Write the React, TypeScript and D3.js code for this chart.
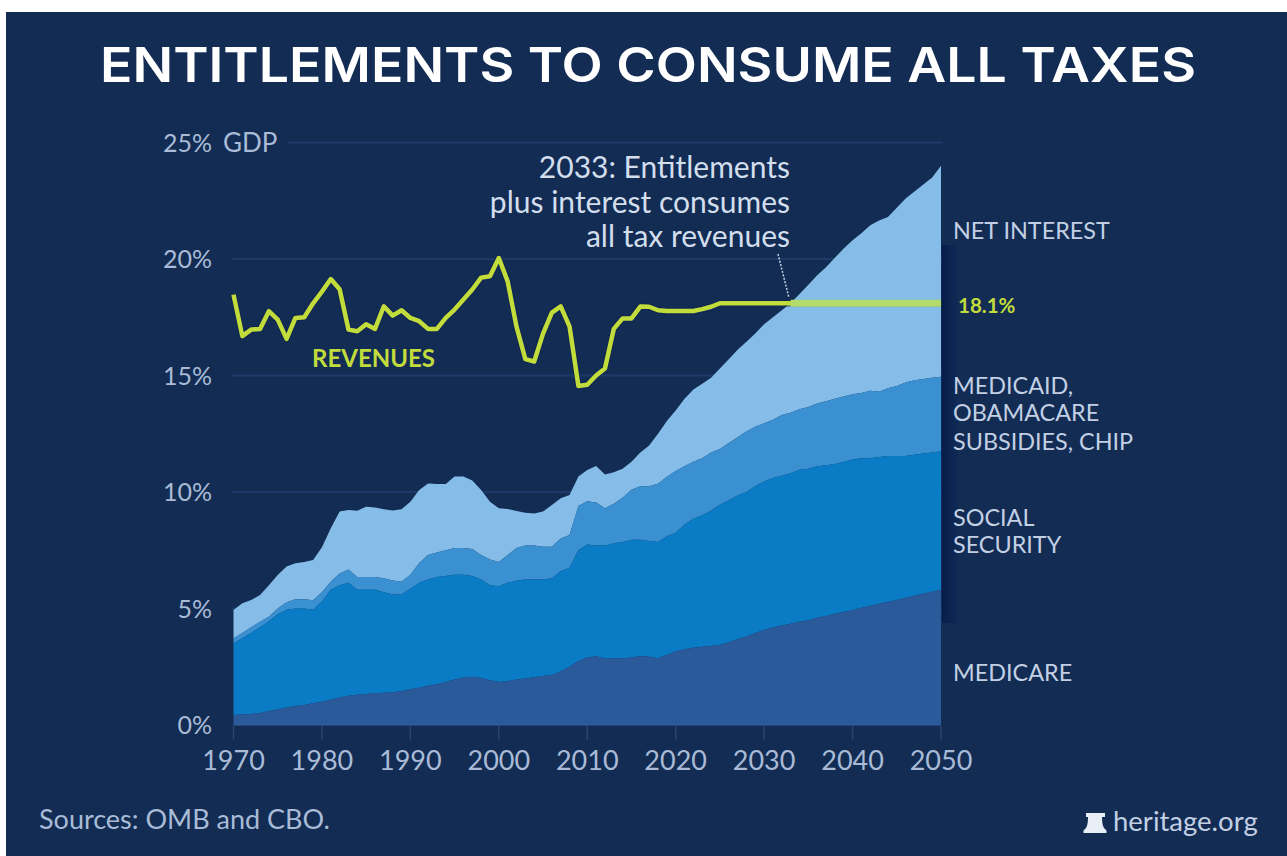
import React from "react";
import * as d3 from "d3";

// Percent of GDP, year by year, 1970–2050. Each "top" array is the cumulative
// height of the stack up to and including that program.
const startYear = 1970;
const endYear = 2050;

const medicareTop = [
  0.43, 0.45, 0.47, 0.52, 0.6, 0.67, 0.75, 0.82, 0.86, 0.93, 1.0, 1.08, 1.18, 1.26, 1.3, 1.33, 1.36, 1.38, 1.4, 1.46,
  1.53, 1.6, 1.68, 1.75, 1.85, 1.95, 2.03, 2.07, 2.02, 1.92, 1.85, 1.88, 1.95, 2.0, 2.05, 2.1, 2.15, 2.3, 2.5, 2.75,
  2.9, 2.95, 2.85, 2.85, 2.85, 2.9, 2.95, 2.93, 2.87, 3.0, 3.15, 3.25, 3.32, 3.36, 3.4, 3.43, 3.55, 3.68, 3.8, 3.95,
  4.08, 4.18, 4.27, 4.35, 4.43, 4.5, 4.6, 4.68, 4.77, 4.85, 4.93, 5.03, 5.11, 5.2, 5.28, 5.36, 5.45, 5.55, 5.63, 5.72, 5.8,
];
const socialSecurityTop = [
  3.5, 3.72, 3.95, 4.2, 4.45, 4.75, 4.95, 5.0, 5.0, 4.95, 5.3, 5.8, 6.0, 6.1, 5.8, 5.8, 5.8, 5.7, 5.6, 5.6,
  5.85, 6.1, 6.25, 6.35, 6.4, 6.45, 6.45, 6.4, 6.25, 6.0, 5.95, 6.1, 6.2, 6.25, 6.25, 6.25, 6.3, 6.6, 6.75, 7.5,
  7.75, 7.7, 7.7, 7.8, 7.85, 7.95, 7.95, 7.9, 7.85, 8.1, 8.25, 8.6, 8.85, 9.0, 9.2, 9.45, 9.65, 9.85, 10.0, 10.25,
  10.45, 10.6, 10.7, 10.8, 10.95, 11.0, 11.1, 11.15, 11.2, 11.3, 11.4, 11.45, 11.45, 11.5, 11.55, 11.55, 11.55, 11.6, 11.65, 11.7, 11.75,
];
const medicaidTop = [
  3.72, 3.95, 4.2, 4.43, 4.65, 5.0, 5.27, 5.4, 5.4, 5.35, 5.7, 6.15, 6.5, 6.67, 6.35, 6.35, 6.35, 6.3, 6.2, 6.15,
  6.45, 6.95, 7.3, 7.4, 7.5, 7.6, 7.6, 7.55, 7.3, 7.1, 7.0, 7.3, 7.6, 7.7, 7.7, 7.65, 7.65, 8.0, 8.15, 9.4,
  9.6, 9.55, 9.3, 9.5, 9.75, 10.1, 10.25, 10.25, 10.35, 10.65, 10.9, 11.1, 11.3, 11.45, 11.7, 11.85, 12.1, 12.35, 12.6, 12.8,
  12.95, 13.1, 13.3, 13.4, 13.55, 13.65, 13.8, 13.9, 14.0, 14.1, 14.2, 14.25, 14.35, 14.3, 14.45, 14.55, 14.7, 14.8, 14.85, 14.9, 14.95,
];
const netInterestTop = [
  4.94, 5.22, 5.36, 5.58, 6.0, 6.44, 6.8, 6.94, 7.0, 7.08, 7.63, 8.44, 9.16, 9.23, 9.2, 9.37, 9.33, 9.26, 9.21, 9.26,
  9.58, 10.09, 10.37, 10.34, 10.34, 10.66, 10.66, 10.49, 10.09, 9.58, 9.3, 9.27, 9.18, 9.11, 9.08, 9.16, 9.44, 9.73, 9.87, 10.66,
  10.94, 11.12, 10.75, 10.85, 11.0, 11.3, 11.7, 12.0, 12.5, 13.05, 13.5, 14.0, 14.4, 14.65, 14.9, 15.3, 15.7, 16.1, 16.45, 16.8,
  17.2, 17.5, 17.8, 18.1, 18.5, 18.9, 19.3, 19.65, 20.05, 20.45, 20.8, 21.1, 21.45, 21.65, 21.8, 22.2, 22.6, 22.9, 23.2, 23.5, 24.0,
];
const revenues = [
  18.47, 16.69, 16.97, 17.0, 17.76, 17.4, 16.57, 17.47, 17.5, 18.1, 18.6, 19.14, 18.7, 16.97, 16.9, 17.2, 17.0, 17.97, 17.57, 17.8,
  17.47, 17.33, 17.0, 17.0, 17.47, 17.83, 18.26, 18.69, 19.2, 19.26, 20.04, 19.04, 17.1, 15.7, 15.6, 16.8, 17.7, 17.97, 17.1, 14.55,
  14.6, 15.0, 15.3, 17.0, 17.45, 17.45, 17.96, 17.95, 17.8, 17.77, 17.77, 17.77, 17.77, 17.85, 17.95, 18.1, 18.1, 18.1, 18.1, 18.1,
  18.1, 18.1, 18.1, 18.1, 18.1, 18.1, 18.1, 18.1, 18.1, 18.1, 18.1, 18.1, 18.1, 18.1, 18.1, 18.1, 18.1, 18.1, 18.1, 18.1, 18.1,
];

const crossoverYear = 2033;
const yTicks = [0, 5, 10, 15, 20, 25];
const xTicks = [1970, 1980, 1990, 2000, 2010, 2020, 2030, 2040, 2050];
const titleText = "ENTITLEMENTS TO CONSUME ALL TAXES";
const noteLines = ["2033: Entitlements", "plus interest consumes", "all tax revenues"];
const sourceText = "Sources: OMB and CBO.";
const brandText = "heritage.org";

const years = d3.range(startYear, endYear + 1);
const x = d3.scaleLinear().domain([startYear, endYear]).range([233.5, 941]);
const y = d3.scaleLinear().domain([0, 25]).range([725, 142.5]);

const bands = [
  { name: "interest", lower: medicaidTop, upper: netInterestTop, fill: "#85bde8" },
  { name: "medicaid", lower: socialSecurityTop, upper: medicaidTop, fill: "#3a90d0" },
  { name: "social", lower: medicareTop, upper: socialSecurityTop, fill: "#0a7cc6" },
  { name: "medicare", lower: years.map(() => 0), upper: medicareTop, fill: "#2b5a9a" },
];

const bandPath = (lower: number[], upper: number[]) =>
  d3
    .area<number>()
    .x((yr) => x(yr))
    .y0((_, i) => y(lower[i]))
    .y1((_, i) => y(upper[i]))(years) as string;

const revenueLine = d3
  .line<number>()
  .x((yr) => x(yr))
  .y((yr) => y(revenues[yr - startYear]));

const BG = "#122c54";
const TICK = "#a9bbd6";
const LABEL = "#c3d0e4";
const GREEN = "#c2dc3c";
const FONT = "Lato, Inter, sans-serif";

export default function App() {
  return (
    <svg
      width={1287}
      height={856}
      style={{ position: "absolute", left: 0, top: 0, background: "#fff" }}
      fontFamily={FONT}
    >
      <defs>
        <linearGradient id="stripFade" x1="0" x2="1" y1="0" y2="0">
          <stop offset="0" stopColor="#081c4a" />
          <stop offset="1" stopColor="#102a56" />
        </linearGradient>
      </defs>

      <rect x={6} y={12} width={1281} height={844} fill={BG} />

      <text x={648} y={82} textAnchor="middle" fill="#fff" fontFamily="Inter, sans-serif" fontWeight={600} fontSize={48} textLength={1096} lengthAdjust="spacingAndGlyphs">
        {titleText}
      </text>

      {/* Horizontal grid; the top rule starts after the GDP unit label */}
      {yTicks.slice(1).map((t) => (
        <line key={t} x1={t === 25 ? 288 : 232} x2={943} y1={y(t)} y2={y(t)} stroke="#1e3a69" strokeWidth={2} />
      ))}

      {/* Darker strip behind the right-hand labels */}
      <rect x={942} y={245} width={16} height={378} fill="url(#stripFade)" />

      {bands.map((b) => (
        <path key={b.name} d={bandPath(b.lower, b.upper)} fill={b.fill} />
      ))}

      <line x1={x(startYear)} x2={x(endYear)} y1={y(0)} y2={y(0)} stroke="#2f5f9e" strokeWidth={1} />

      {xTicks.map((t) => (
        <g key={t}>
          <line x1={x(t)} x2={x(t)} y1={726} y2={740} stroke="#28456f" strokeWidth={1.5} />
          <text x={x(t)} y={770} textAnchor="middle" fontSize={27} fill={TICK}>
            {t}
          </text>
        </g>
      ))}

      {yTicks.map((t) => (
        <text key={t} x={212} y={y(t) + 9} textAnchor="end" fontSize={25} fill={TICK}>
          {t}%
        </text>
      ))}
      <text x={223} y={152} fontSize={26} fill={TICK}>
        GDP
      </text>

      {/* Revenues: thin with a dark edge over the background, wider over the stack */}
      <path d={revenueLine(years) as string} fill="none" stroke="#0f2550" strokeWidth={6.5} strokeLinejoin="round" opacity={0.7} />
      <path d={revenueLine(years) as string} fill="none" stroke={GREEN} strokeWidth={4.5} strokeLinejoin="round" />
      <path
        d={revenueLine(years.filter((yr) => yr >= crossoverYear)) as string}
        fill="none"
        stroke="#b4dc6c"
        strokeWidth={7}
      />

      <line x1={778} y1={254} x2={789} y2={298} stroke="#c3d0e4" strokeWidth={1.5} strokeDasharray="2 1.5" />
      {noteLines.map((line, i) => (
        <text key={line} x={790} y={178 + i * 34.5} textAnchor="end" fontSize={30} fill="#d3deed">
          {line}
        </text>
      ))}

      <text x={312} y={367} fontSize={24} fontWeight={700} fill={GREEN}>
        REVENUES
      </text>
      <text x={958} y={313} fontSize={20.5} fontWeight={700} fill={GREEN}>
        18.1%
      </text>

      <g fontSize={23.4} fill={LABEL}>
        <text x={953} y={239}>NET INTEREST</text>
        <text x={953} y={394}>MEDICAID,</text>
        <text x={953} y={421}>OBAMACARE</text>
        <text x={953} y={450}>SUBSIDIES, CHIP</text>
        <text x={953} y={526}>SOCIAL</text>
        <text x={953} y={553}>SECURITY</text>
        <text x={953} y={681}>MEDICARE</text>
      </g>

      <text x={39} y={829} fontSize={27} fill={TICK}>
        {sourceText}
      </text>

      {/* Bell mark beside the site name */}
      <path
        fill="#e8eef6"
        d="M1086 813 h19 v4 h-3 q0 8 2 11 l2.5 2.5 v2.5 h-23 v-2.5 l2.5 -2.5 q2 -3 2 -11 h-2 z"
      />
      <text x={1113} y={831} fontSize={27.5} fill="#c3d0e4">
        {brandText}
      </text>
    </svg>
  );
}
